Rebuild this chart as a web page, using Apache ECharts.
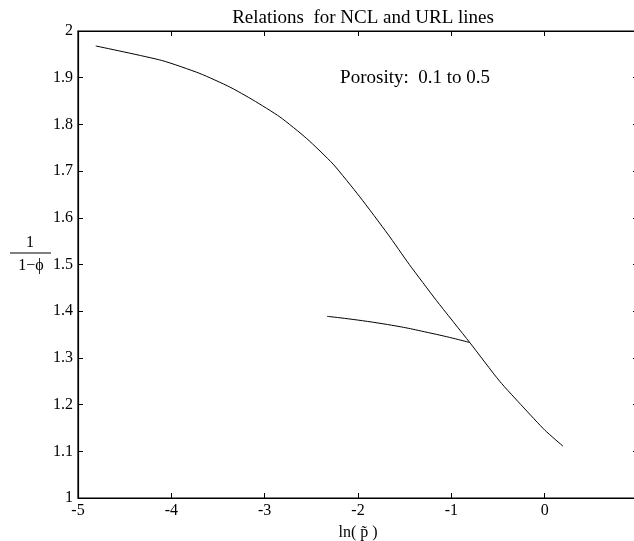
<!DOCTYPE html>
<html>
<head>
<meta charset="utf-8">
<script src="https://cdn.jsdelivr.net/npm/echarts@6/dist/echarts.min.js"></script>
<style>
html,body{margin:0;padding:0;background:#fff;}
#chart{width:634px;height:541px;}
</style>
</head>
<body>
<div id="chart"></div>
<script>
// NCL line: ln(p~) vs 1/(1-phi)
const nclX = [-4.81, -4.104, -3.694, -3.373, -3.123, -2.837, -2.551, -2.267, -1.981, -1.68, -1.45, -1.16, -0.803, -0.482, -0.232, 0.003, 0.196];
const nclY = [1.968, 1.937, 1.909, 1.880, 1.852, 1.816, 1.770, 1.715, 1.645, 1.565, 1.500, 1.423, 1.333, 1.250, 1.195, 1.145, 1.111];
// URL line
const urlX = [-2.331, -1.731, -1.196, -0.803];
const urlY = [1.389, 1.373, 1.352, 1.333];
const xTicks = ['-5', '-4', '-3', '-2', '-1', '0'];
const yTicks = ['1', '1.1', '1.2', '1.3', '1.4', '1.5', '1.6', '1.7', '1.8', '1.9', '2'];
const titleText = 'Relations  for NCL and URL lines';
const noteText = 'Porosity:  0.1 to 0.5';
const xName = 'ln( p\u0303 )';
const yNum = '1';
const yDen = '1\u2212\u03d5';

const FONT = '"Liberation Serif", "Times New Roman", serif';
const chart = echarts.init(document.getElementById('chart'), null, {renderer: 'canvas'});
const zip = (xs, ys) => xs.map((x, i) => [x, ys[i]]);
const mkLine = () => ({show: true, onZero: false, lineStyle: {color: '#000', width: 1.2}});
const mkTick = () => ({show: true, inside: true, interval: 0, length: 5, lineStyle: {color: '#000', width: 1}});

chart.setOption({
  backgroundColor: '#fff',
  animation: false,
  title: {
    text: titleText, left: 358, top: 4, textAlign: 'center',
    textStyle: {fontFamily: FONT, fontSize: 19, fontWeight: 'normal', color: '#000'}
  },
  grid: {left: 78, right: -4, top: 31, bottom: 43, containLabel: false, outerBoundsMode: 'none',
         show: true, borderColor: '#000', borderWidth: 1.2, backgroundColor: 'transparent'},
  xAxis: [{
    type: 'value', min: -5, max: 1, interval: 1, position: 'bottom',
    axisLine: mkLine(), axisTick: mkTick(), splitLine: {show: false},
    axisLabel: {
      margin: 5, color: '#000', fontFamily: FONT, fontSize: 16,
      formatter: v => { const i = Math.round(v + 5); return i < xTicks.length ? xTicks[i] : ''; }
    },
    name: xName, nameLocation: 'middle', nameGap: 27,
    nameTextStyle: {fontFamily: FONT, fontSize: 16, color: '#000'}
  }, {
    type: 'value', min: -5, max: 1, interval: 1, position: 'top',
    axisLine: mkLine(), axisTick: mkTick(), axisLabel: {show: false}, splitLine: {show: false}
  }],
  yAxis: [{
    type: 'value', min: 1, max: 2, interval: 0.1, position: 'left',
    axisLine: mkLine(), axisTick: mkTick(), splitLine: {show: false},
    axisLabel: {
      margin: 5, color: '#000', fontFamily: FONT, fontSize: 16,
      formatter: v => yTicks[Math.round((v - 1) * 10)]
    }
  }, {
    type: 'value', min: 1, max: 2, interval: 0.1, position: 'right',
    axisLine: mkLine(), axisTick: mkTick(), axisLabel: {show: false}, splitLine: {show: false}
  }],
  graphic: [
    {type: 'text', x: 490, y: 78, style: {text: noteText, textAlign: 'right', textVerticalAlign: 'middle', fontFamily: FONT, fontSize: 19, fill: '#000'}},
    {type: 'text', x: 30, y: 243, style: {text: yNum, textAlign: 'center', textVerticalAlign: 'middle', fontFamily: FONT, fontSize: 16, fill: '#000'}},
    {type: 'line', shape: {x1: 10, y1: 253, x2: 51, y2: 253}, style: {stroke: '#000', lineWidth: 1}},
    {type: 'text', x: 31, y: 266, style: {text: yDen, textAlign: 'center', textVerticalAlign: 'middle', fontFamily: FONT, fontSize: 16, fill: '#000'}}
  ],
  series: [{
    name: 'NCL', type: 'line', data: zip(nclX, nclY), showSymbol: false, smooth: 0.2,
    lineStyle: {color: '#000', width: 1}, silent: true
  }, {
    name: 'URL', type: 'line', data: zip(urlX, urlY), showSymbol: false, smooth: true,
    lineStyle: {color: '#000', width: 1}, silent: true
  }]
});
</script>
</body>
</html>
